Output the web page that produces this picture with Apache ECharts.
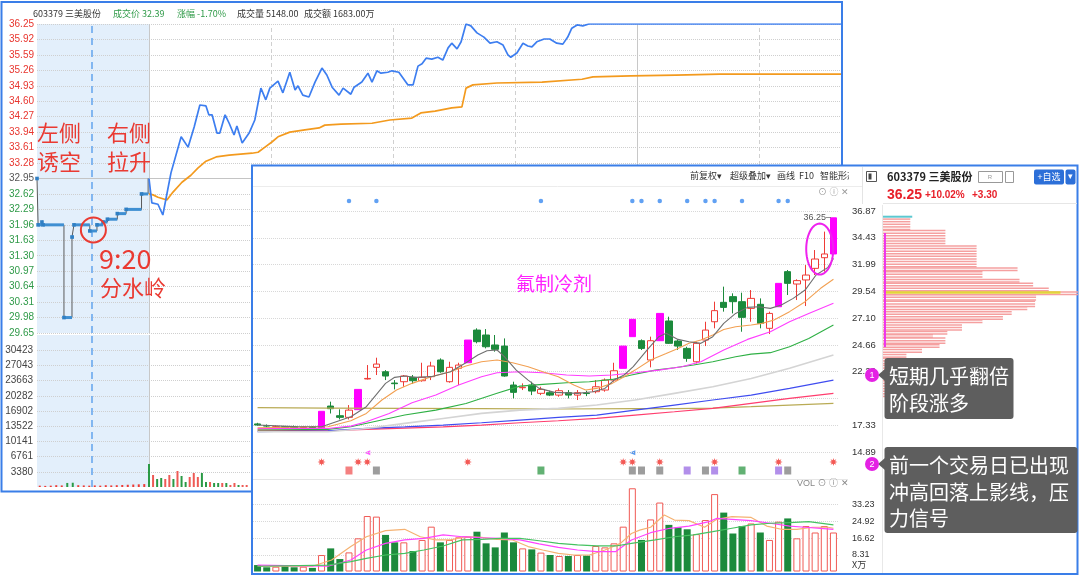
<!DOCTYPE html>
<html>
<head>
<meta charset="utf-8">
<script src="https://cdn.jsdelivr.net/npm/echarts@6.0.0/dist/echarts.min.js"></script>
<style>
html,body{margin:0;padding:0;background:#fff;}
#chart{width:1080px;height:575px;}
</style>
</head>
<body>
<div id="chart"></div>
<script>
// ================= DATA =================
const stockCode = '603379';
const stockName = '三美股份';
const quoteFields = ['成交价', '涨幅', '成交量', '成交额'];
const quoteValues = ['32.39', '-1.70%', '5148.00', '1683.00万'];
const prevClose = 32.95;
const priceTicks = ['36.25','35.92','35.59','35.26','34.93','34.60','34.27','33.94','33.61','33.28','32.95','32.62','32.29','31.96','31.63','31.30','30.97','30.64','30.31','29.98','29.65'];
const volTickLabels = ['3380','6761','10141','13522','16902','20282','23663','27043','30423'];
const volTickStep = 3380.4;

// call auction 9:15-9:25 (minutes after 9:15)
const auctionMin   = [0, 0.1, 0.45, 0.55, 2.45, 3.18, 3.36, 4.8, 5.45, 6.0, 6.4, 7.3, 8.1, 9.5, 10.1];
const auctionPrice = [32.95, 31.96, 32.02, 31.96, 29.98, 31.70, 31.96, 31.83, 31.96, 32.02, 32.08, 32.20, 32.29, 32.62, 32.95];
const auctionVolMin = [0.25,0.75,1.25,1.75,2.25,2.75,3.25,3.75,4.25,4.75,5.25,5.75,6.25,6.75,7.25,7.75,8.25,8.75,9.25,9.75];
const auctionVol    = [300,250,300,400,350,900,950,400,350,300,350,300,400,350,400,450,500,550,600,650];
const auctionVolDir = [1,1,1,1,1,-1,-1,1,1,1,1,1,1,1,1,1,1,1,1,1];

// continuous trading (minutes after 9:30)
const priceMin = [0,0.7,2.2,3.4,5.4,7.9,9.6,11.1,12.5,14.0,14.7,15.5,16.7,17.4,18.7,19.7,20.9,21.6,22.9,24.6,26.0,27.5,28.7,29.7,31.7,32.9,34.6,35.9,36.6,37.8,39.3,40.8,42.5,43.7,45.0,46.7,47.7,49.6,50.4,52.3,53.8,54.8,56.0,57.0,58.7,59.7,61.4,63.6,64.9,66.1,67.1,68.1,69.5,71.0,72.2,73.5,74.4,75.7,76.7,77.9,79.1,80.6,82.3,83.8,85.5,87.0,88.2,88.9,90.4,91.9,93.1,94.1,95.3,97.1,98.5,100.2,101.7,102.9,103.9,105.2,106.6,108.1,170.3];
const priceVal = [32.95,32.43,32.40,32.17,33.07,33.84,33.62,34.05,34.52,34.50,34.31,34.31,33.92,33.92,34.31,34.13,33.88,34.07,33.71,33.92,34.20,34.88,34.63,34.88,35.03,34.78,35.22,34.84,34.93,34.73,34.69,35.01,35.31,35.16,34.90,34.73,34.88,34.75,34.90,35.01,35.20,35.01,35.25,35.20,35.22,35.25,35.22,34.95,34.95,35.35,35.40,35.52,35.50,35.54,35.48,35.74,35.84,35.72,35.87,36.25,36.21,36.06,35.97,35.84,35.87,35.80,35.59,35.54,35.63,35.84,35.78,35.76,35.87,35.93,35.93,35.84,35.82,35.97,36.16,36.23,36.21,36.25,36.25];
const avgMin = [0,1.0,2.2,4.4,5.9,8.1,10.3,12.0,14.0,16.5,19.7,25.3,26.8,28.5,30.2,31.7,34.6,38.3,41.8,43.2,47.2,54.8,59.2,64.6,66.8,70.3,74.4,76.9,77.9,79.6,85.5,96.6,106.4,109.1,118.4,129.5,140.3,170.3];
const avgVal = [32.62,32.60,32.55,32.49,32.66,32.87,33.02,33.17,33.32,33.41,33.45,33.49,33.51,33.62,33.73,33.84,33.94,33.99,34.03,34.09,34.11,34.13,34.20,34.24,34.35,34.39,34.46,34.48,34.88,34.95,34.99,35.01,35.07,35.12,35.14,35.16,35.18,35.18];
const timeGridMin = [30, 60, 90, 120, 150];
const contVolMin = [0,1,2,3,4,5,6,7,8,9,10,11,12,13,14,15,16,17,18,19,20,21,22,23,24];
const contVol    = [5115,2670,1780,2000,1780,2670,1780,3560,2450,1110,2220,3110,2220,3110,1110,1110,890,890,890,890,445,890,445,445,445];
const contVolDir = [-1,1,-1,-1,1,1,-1,1,-1,-1,1,1,1,-1,-1,1,-1,-1,1,-1,1,1,-1,1,1];

// daily candles [open, close, low, high]
const candles = [
[17.45,17.35,17.30,17.55],[17.30,17.25,17.15,17.40],[17.10,17.20,17.05,17.30],[17.20,17.10,17.00,17.25],
[17.20,17.10,17.00,17.30],[17.10,17.15,17.00,17.20],[17.15,17.10,17.00,17.25],[17.05,18.60,17.05,18.60],
[19.08,18.84,18.40,19.48],[18.20,18.05,17.86,18.78],[18.05,18.71,17.86,19.17],[18.75,20.60,18.75,20.60],
[21.55,21.60,21.50,22.82],[22.61,22.91,21.91,23.49],[22.21,21.82,21.45,22.36],[21.18,21.12,20.60,21.45],
[21.30,21.82,20.84,21.91],[21.70,21.39,21.09,21.91],[21.39,21.70,21.30,23.03],[21.76,22.73,21.45,23.12],
[23.28,22.21,22.12,23.43],[21.30,22.61,21.21,23.12],[22.52,22.82,21.00,23.03],[23.03,25.10,23.03,25.10],
[26.01,24.95,24.80,26.17],[25.56,24.49,24.34,26.10],[24.65,24.25,24.04,25.56],[24.55,21.82,21.76,25.25],
[21.00,20.33,19.78,21.30],[20.75,20.80,20.54,21.15],[21.00,20.45,20.08,21.30],[20.24,20.60,20.08,20.84],
[20.30,20.08,19.99,20.48],[20.08,20.48,19.93,20.69],[20.30,20.08,19.78,20.54],[20.08,20.30,19.63,20.54],
[20.26,20.22,19.99,20.48],[20.39,20.84,20.24,21.45],[20.54,21.45,20.39,21.60],[21.45,22.30,21.30,23.03],
[22.52,24.55,22.52,24.55],[25.41,26.99,25.41,26.99],[25.04,24.34,24.19,25.16],[23.28,25.04,22.61,25.41],
[25.04,27.53,25.04,27.53],[26.84,24.80,24.74,27.23],[25.01,24.55,24.19,25.16],[24.34,23.43,23.12,24.49],
[23.12,24.80,22.97,24.95],[25.10,26.01,24.55,26.77],[26.77,27.78,26.17,28.60],[28.54,28.08,27.69,29.97],
[29.06,28.60,27.53,29.36],[28.60,27.17,25.86,29.42],[27.99,28.90,26.77,29.66],[28.36,26.62,26.17,28.90],
[26.17,27.53,25.65,27.69],[28.14,30.27,28.14,30.27],[31.34,30.27,29.21,31.49],[30.21,30.52,28.75,30.64],
[30.58,31.03,28.20,31.94],[31.64,32.49,31.03,33.31],[32.61,32.95,31.34,34.99],[32.95,36.25,32.95,36.25]
];
const limitUpIdx = [7, 11, 23, 40, 41, 44, 57, 63];
const candleVol = [3.2,2.1,2.4,2.7,2.1,2.4,1.8,8.2,11.5,6.2,9.5,16.5,27.6,27.3,18.2,14.5,14.5,10.2,15.7,22.3,14.5,15.7,17.0,17.3,19.8,14.0,12.0,19.4,14.5,11.5,11.0,9.4,8.2,7.7,7.7,8.2,7.9,12.7,12.0,14.0,22.3,41.4,15.7,25.9,34.3,23.2,22.0,21.0,18.6,25.6,38.5,29.3,18.9,22.6,23.9,19.4,15.7,24.8,26.4,16.5,22.6,19.4,22.6,19.4];

// moving averages [day index, value]
const ma5 = [[0,17.35],[4,17.2],[7,17.19],[10.2,18.11],[11.9,19.02],[13.1,20.24],[14,21.15],[15,21.70],[16.1,21.82],[17.3,21.70],[19,21.76],[21.1,22.21],[22.8,23.03],[24.1,23.73],[25.1,24.13],[26.2,24.19],[27,23.58],[28.3,22.36],[29.6,21.45],[30.8,20.69],[32.5,20.33],[35,20.24],[36.7,20.39],[38,20.69],[39,21.45],[40.1,21.91],[41.1,22.67],[42.6,24.19],[43.9,25.41],[44.7,25.71],[46,25.16],[47.2,24.95],[48.5,24.80],[49.8,25.41],[51,26.62],[52.3,27.53],[53.6,28.08],[54.8,28.14],[56.1,27.99],[57.3,28.29],[58.6,28.90],[59.9,29.66],[61.1,31.03],[62.4,31.73],[63,32.55]];
const ma10 = [[0,17.1],[7.7,17.19],[10.2,17.74],[11.9,18.41],[13.6,19.63],[15.2,20.54],[16.9,21.15],[19,21.76],[21.1,22.21],[22.8,22.73],[24.5,23.12],[26.2,23.28],[27.9,23.03],[29.6,22.67],[31.2,22.21],[32.9,21.76],[34.6,21.00],[35.9,20.54],[37.1,20.69],[38.8,21.15],[40.1,21.76],[41.3,22.36],[43,23.28],[44.7,23.88],[46,24.34],[47.2,24.80],[48.5,25.10],[49.8,25.56],[51,26.07],[52.3,26.32],[54,26.47],[55.2,26.62],[56.5,26.93],[58.2,27.69],[59.9,28.60],[61.6,29.82],[63,30.64]];
const ma20 = [[0,17.04],[7.7,17.04],[10.2,17.25],[11.9,17.65],[14.4,18.41],[16.9,19.38],[19.5,20.08],[22,21.00],[24.5,21.76],[26.2,22.12],[28.7,22.21],[31.2,22.12],[33.8,21.91],[36.3,21.82],[38.8,21.91],[41.3,22.12],[43.9,22.36],[46.4,22.67],[48.5,23.12],[51,24.19],[53.6,25.16],[56.1,25.86],[58.2,26.77],[60.3,27.53],[63,28.45]];
const ma30 = [[0,16.89],[7.7,16.95],[10.2,17.19],[12.7,17.65],[16.1,18.26],[19.5,18.71],[22.8,19.32],[26.2,20.24],[28.7,20.90],[31.2,21.06],[33.8,21.21],[36.3,21.30],[38.8,21.51],[40.9,21.91],[43.5,22.36],[45.6,22.58],[47.7,22.82],[49.8,23.12],[52.3,23.58],[54,23.82],[56.1,23.95],[58.2,24.49],[60.3,25.25],[63,26.47]];
const ma60 = [[0,16.74],[7.7,16.74],[11.9,17.04],[16.1,17.50],[20.3,17.95],[24.5,18.41],[28.7,18.71],[32.9,18.87],[37.1,19.17],[41.3,19.63],[45.6,20.24],[49.8,20.84],[54,21.60],[58.2,22.52],[63,23.73]];
const ma120 = [[0,16.74],[7.7,16.83],[11.9,17.04],[16.1,17.19],[20.3,17.35],[24.5,17.56],[28.7,17.80],[32.9,18.05],[37.1,18.26],[41.3,18.71],[45.6,19.17],[49.8,19.63],[54,20.08],[58.2,20.69],[63,21.45]];
const ma250 = [[0,16.89],[7.7,16.83],[11.9,16.95],[16.1,17.07],[20.3,17.19],[24.5,17.35],[28.7,17.56],[32.9,17.74],[37.1,17.95],[41.3,18.26],[45.6,18.56],[49.8,18.87],[54,19.32],[58.2,19.78],[63,20.24]];
const maLong = [[0,18.93],[7.7,18.90],[16.1,18.87],[24.5,18.84],[32.9,18.81],[41.3,18.84],[45.6,18.84],[49.8,18.90],[54,19.02],[58.2,19.17],[63,19.32]];
const volMa5 = [[0,2.6],[6,2.6],[8.1,5.7],[10.2,12.4],[11.9,17.3],[14,20.3],[16.1,21.0],[17.8,17.3],[19.5,15.7],[21.1,15.7],[22.8,17.3],[24.5,17.0],[26.2,16.0],[27.9,15.7],[29.6,12.4],[31.2,10.7],[32.9,9.0],[34.6,8.2],[36.3,8.2],[38,10.7],[39.7,14.0],[40.9,18.9],[41.8,20.6],[43,22.0],[44.5,28.1],[45.6,25.6],[47.2,25.3],[48.9,22.0],[50.2,25.9],[51.9,27.3],[54,26.9],[55.7,22.6],[57.3,21.0],[59,21.0],[60.7,22.0],[62.4,22.0],[63,21.5]];
const volMa10 = [[0,3.2],[7.7,2.6],[10.2,5.7],[11.9,10.7],[14,14.0],[16.1,15.7],[18.2,16.5],[20.3,18.2],[22.4,17.3],[24.5,16.8],[26.6,16.5],[28.7,15.7],[30.8,13.7],[32.9,12.0],[35,10.7],[37.1,9.9],[39.2,9.9],[40.9,15.7],[43,19.3],[45.1,21.5],[47.2,22.6],[49.4,24.8],[50.2,26.4],[51.9,25.9],[54,25.3],[56.1,24.0],[58.2,22.6],[59.9,22.0],[61.6,21.5],[63,21.0]];
const volMa20 = [[0,2.6],[7.7,3.2],[10.2,4.9],[11.9,6.5],[14,8.2],[16.1,9.0],[18.2,10.7],[20.3,12.7],[22.4,15.7],[24.5,16.0],[26.6,16.5],[28.7,16.5],[30.8,15.3],[32.9,14.0],[35,13.2],[37.1,12.7],[39.2,12.7],[40.9,14.0],[43.5,15.7],[45.6,17.3],[47.7,18.2],[49.8,19.8],[51.9,21.5],[54,23.2],[56.1,24.0],[58.2,24.3],[60.3,24.8],[63,23.2]];
const candleTicks = ['36.87','34.43','31.99','29.54','27.10','24.66','22.22','19.78','17.33','14.89'];
const candleMarkPrice = 19.42;
const candleVolTicks = ['8.31','16.62','24.92','33.23'];
const candleVolStep = 8.3075;
const candleVolUnit = 'X万';

// signal markers (day indices)
const starIdx = [10, 13, 31, 41, 42, 44, 47, 49, 50, 53, 57, 58];
const asteriskIdx = [7, 11, 12, 23, 40, 41, 44, 50, 57, 63];
const iconIdx = [10, 13, 31, 41, 42, 44, 47, 49, 50, 53, 57, 58];
const iconKind = ['r','k','g','k','k','k','p','k','p','g','p','k'];
const flagIdx = [12, 41];
const flagKind = ['m', 'b'];

// chip distribution blocks [price top, price bottom, share %]
const chipBlocks = [[36.20,35.20,14],[35.15,33.80,32],[33.75,31.80,48],[31.75,31.45,69],[31.40,30.75,51],[30.70,30.40,70],[30.35,29.95,77],[29.90,29.60,85],[29.55,29.35,100],[29.30,28.75,78.5],[28.70,28.25,78],[28.20,27.80,74],[27.75,27.35,66],[27.30,27.05,61.5],[27.00,26.60,51],[26.55,26.00,40.5],[25.95,25.70,33],[25.65,25.40,25.6],[25.35,24.80,32],[24.75,24.35,29],[24.30,23.90,20],[23.85,23.55,12],[23.50,22.90,9],[22.85,21.50,7],[21.45,19.90,4]];
const chipPeak = [29.45, 91];
const chipNow = [36.35, 15];
const chipCostBand = [34.86, 24.46];

const lastQuote = ['36.25', '+10.02%', '+3.30'];
const toolbarItems = ['前复权▾', '超级叠加▾', '画线', 'F10', '智能形态'];
const sectorNote = '氟制冷剂';
const leftNotes = ['左侧', '诱空', '右侧', '拉升', '9:20', '分水岭'];
const note1 = ['短期几乎翻倍', '阶段涨多'];
const note2 = ['前一个交易日已出现', '冲高回落上影线，压', '力信号'];

// ================= STYLE / BUILD =================
const FONT = '"Liberation Sans","Noto Sans CJK SC",sans-serif';
const CJK = '"Noto Sans CJK SC","Noto Sans",sans-serif';
const UP = '#ef3b36', DOWN = '#1c8a3c', LIMIT = '#ff00ff';
const chart = echarts.init(document.getElementById('chart'), null, {renderer: 'canvas', width: 1080, height: 575});

const zip = (a, b) => a.map((v, i) => [v, b[i]]);
const cats = candles.map((_, i) => 'D' + (i + 1));
const tickColor = t => (+t > prevClose + 1e-6 ? '#e8352e' : (+t < prevClose - 1e-6 ? '#2f9a48' : '#555'));
const dotted = {type: 'dotted', color: '#cfcfcf', width: 1};

function starPath(n, r1, r2) {
  let d = '';
  for (let i = 0; i < 2 * n; i++) {
    const r = i % 2 ? r2 : r1, a = Math.PI * i / n - Math.PI / 2;
    d += (i ? 'L' : 'M') + (50 + r * Math.cos(a)).toFixed(2) + ' ' + (50 + r * Math.sin(a)).toFixed(2) + ' ';
  }
  return 'path://' + d + 'Z';
}
const iconColor = {r: '#f26a6a', k: '#8c8c8c', g: '#46a35a', p: '#a47be6'};
const flagColor = {m: '#ff33ff', b: '#2f7fe8'};

const auctionSegs = auctionMin.slice(0, -1).map((m, i) => [m, auctionPrice[i], auctionMin[i + 1]]);
const chipData = chipBlocks.map(b => [b[0], b[1], b[2], 0])
  .concat([[chipPeak[0], chipPeak[0], chipPeak[1], 1], [chipNow[0], chipNow[0], chipNow[1], 2], [chipCostBand[0], chipCostBand[1], 1, 3]]);

const G = (left, top, width, height) => ({left, top, width, height, outerBoundsMode: 'none', containLabel: false});

const option = {
  animation: false,
  backgroundColor: '#ffffff',
  grid: [
    G(37, 24, 112, 309), G(149, 24, 693, 309), G(37, 335, 112, 152), G(149, 335, 693, 152),
    G(253, 196, 585, 10), G(253, 211, 585, 241), G(253, 445, 585, 34), G(253, 488, 585, 83.5),
    G(883, 211, 195, 241)
  ],
  xAxis: [
    {gridIndex: 0, type: 'value', min: 0, max: 10.18, show: false},
    {gridIndex: 1, type: 'value', min: 0, max: 170.3, show: false},
    {gridIndex: 2, type: 'value', min: 0, max: 10.18, show: false},
    {gridIndex: 3, type: 'value', min: 0, max: 170.3, show: false},
    {gridIndex: 4, type: 'category', data: cats, show: false},
    {gridIndex: 5, type: 'category', data: cats, show: false},
    {gridIndex: 5, type: 'value', min: -0.5, max: 63.5, show: false},
    {gridIndex: 6, type: 'category', data: cats, show: false},
    {gridIndex: 7, type: 'category', data: cats, show: false},
    {gridIndex: 7, type: 'value', min: -0.5, max: 63.5, show: false},
    {gridIndex: 8, type: 'value', min: 0, max: 100, show: false}
  ],
  yAxis: [
    {gridIndex: 0, type: 'value', min: 29.65, max: 36.25, show: false},
    {gridIndex: 1, type: 'value', min: 29.65, max: 36.25, show: false},
    {gridIndex: 2, type: 'value', min: 0, max: volTickStep * 10, show: false},
    {gridIndex: 3, type: 'value', min: 0, max: volTickStep * 10, show: false},
    {gridIndex: 4, type: 'value', min: 0, max: 2, show: false},
    {gridIndex: 5, type: 'value', min: 14.89, max: 36.87, show: false},
    {gridIndex: 6, type: 'value', min: 0, max: 4, show: false},
    {gridIndex: 7, type: 'value', min: 0, max: candleVolStep * 5, show: false},
    {gridIndex: 8, type: 'value', min: 14.89, max: 36.87, show: false}
  ],
  series: []
};
const S = option.series;

// ---- left intraday panel ----
S.push({type: 'scatter', xAxisIndex: 0, yAxisIndex: 0, z: 1, silent: true, symbolSize: 0, data: [[0, 30]],
  markArea: {silent: true, z: 1, itemStyle: {color: '#e3effb'}, data: [[{xAxis: 0, yAxis: 29.65}, {xAxis: 10.18, yAxis: 36.25}]]}});
S.push({type: 'scatter', xAxisIndex: 2, yAxisIndex: 2, z: 1, silent: true, symbolSize: 0, data: [[0, 0]],
  markArea: {silent: true, z: 1, itemStyle: {color: '#e3effb'}, data: [[{xAxis: 0, yAxis: 0}, {xAxis: 10.18, yAxis: volTickStep * 10}]]}});

S.push({type: 'line', xAxisIndex: 0, yAxisIndex: 0, z: 3, step: 'end', symbol: 'none', silent: true,
  data: zip(auctionMin, auctionPrice), lineStyle: {color: '#5a5a5a', width: 1},
  markLine: {silent: true, z: 2, symbol: ['none', 'none'], animation: false,
    data: priceTicks.map(t => ({yAxis: +t,
      lineStyle: +t === prevClose ? {type: 'solid', color: '#c4c4c4', width: 1} : dotted,
      label: {show: true, position: 'start', distance: 3, formatter: t, color: tickColor(t), fontSize: 10, fontFamily: FONT}}))
      .concat([{xAxis: 5, lineStyle: {type: [7, 5], color: '#6aa9ee', width: 1.6}, label: {show: false}}])}});
S.push({type: 'custom', xAxisIndex: 0, yAxisIndex: 0, z: 4, silent: true, data: auctionSegs, encode: {x: [0, 2], y: 1},
  renderItem: (p, api) => {
    const s = api.coord([api.value(0), api.value(1)]), e = api.coord([api.value(2), api.value(1)]);
    return {type: 'group', children: [
      {type: 'line', shape: {x1: s[0], y1: s[1], x2: e[0], y2: s[1]}, style: {stroke: '#3f8fd2', lineWidth: 3}},
      {type: 'rect', shape: {x: s[0] - 1.8, y: s[1] - 1.8, width: 3.6, height: 3.6}, style: {fill: '#2f7fc4'}}]};
  }});
S.push({type: 'line', xAxisIndex: 1, yAxisIndex: 1, z: 4, symbol: 'none', silent: true,
  data: zip(priceMin, priceVal), lineStyle: {color: '#3d7ef0', width: 1.7},
  markLine: {silent: true, z: 2, symbol: ['none', 'none'], animation: false,
    data: priceTicks.map(t => ({yAxis: +t, lineStyle: +t === prevClose ? {type: 'solid', color: '#c4c4c4', width: 1} : dotted, label: {show: false}}))
      .concat(timeGridMin.map(m => ({xAxis: m, lineStyle: m === 120 ? {type: 'solid', color: '#c8c8c8', width: 1} : {type: [4, 3], color: '#d0d0d0', width: 1}, label: {show: false}})))
      .concat([{xAxis: 0, lineStyle: {type: 'solid', color: '#c8c8c8', width: 1}, label: {show: false}}])}});
S.push({type: 'line', xAxisIndex: 1, yAxisIndex: 1, z: 3, symbol: 'none', silent: true,
  data: zip(avgMin, avgVal), lineStyle: {color: '#f39a1e', width: 1.7}});
S.push({type: 'bar', xAxisIndex: 2, yAxisIndex: 2, z: 3, silent: true, barWidth: 2,
  data: auctionVolMin.map((m, i) => ({value: [m, auctionVol[i]], itemStyle: {color: auctionVolDir[i] > 0 ? '#ee3a33' : '#2a9a45'}})),
  markLine: {silent: true, z: 2, symbol: ['none', 'none'], animation: false,
    data: volTickLabels.map((t, i) => ({yAxis: volTickStep * (i + 1), lineStyle: dotted,
      label: {show: true, position: 'start', distance: 4, formatter: t, color: '#444', fontSize: 10, fontFamily: FONT}}))
      .concat([{xAxis: 5, lineStyle: {type: [7, 5], color: '#6aa9ee', width: 1.6}, label: {show: false}}])}});
S.push({type: 'bar', xAxisIndex: 3, yAxisIndex: 3, z: 3, silent: true, barWidth: 2,
  data: contVolMin.map((m, i) => ({value: [m, contVol[i]], itemStyle: {color: contVolDir[i] > 0 ? '#ee5a55' : '#2a9a45'}})),
  markLine: {silent: true, z: 2, symbol: ['none', 'none'], animation: false,
    data: volTickLabels.map((t, i) => ({yAxis: volTickStep * (i + 1), lineStyle: dotted, label: {show: false}}))
      .concat(timeGridMin.map(m => ({xAxis: m, lineStyle: {type: [4, 3], color: '#d0d0d0', width: 1}, label: {show: false}})))
      .concat([{xAxis: 0, lineStyle: {type: 'solid', color: '#c8c8c8', width: 1}, label: {show: false}}])}});

// ---- daily candle panel ----
S.push({type: 'scatter', xAxisIndex: 4, yAxisIndex: 4, z: 60, silent: true, symbol: 'circle', symbolSize: 4.5,
  itemStyle: {color: '#3a8af0'}, data: starIdx.map(i => [i, 1])});
const lastC = candles[candles.length - 1];
S.push({type: 'candlestick', xAxisIndex: 5, yAxisIndex: 5, z: 62, silent: true, barWidth: 7,
  itemStyle: {color: '#ffffff', color0: DOWN, borderColor: UP, borderColor0: DOWN, borderWidth: 1},
  data: candles.map((c, i) => limitUpIdx.includes(i) ? {value: c, itemStyle: {color: LIMIT, borderColor: LIMIT}} : c),
  markLine: {silent: true, z: 61, symbol: ['none', 'none'], animation: false,
    data: candleTicks.map(t => ({yAxis: +t, lineStyle: {type: 'dotted', color: '#d8d8d8', width: 1},
      label: {show: t !== '19.78', position: 'end', distance: 14, formatter: t, color: '#333', fontSize: 9.5, fontFamily: FONT}}))
      .concat([{yAxis: candleMarkPrice, lineStyle: {opacity: 0},
        label: {show: true, position: 'end', distance: 11, formatter: candleMarkPrice.toFixed(2), color: '#333', fontSize: 9.5, fontFamily: FONT,
          backgroundColor: '#e1edfa', padding: [2, 9, 2, 3]}}])},
  markPoint: {silent: true, z: 64, symbol: 'rect', symbolSize: 1, itemStyle: {color: 'rgba(0,0,0,0)'},
    label: {show: true, position: 'left', distance: 2, color: '#555', fontSize: 9, fontFamily: FONT},
    data: [{coord: [candles.length - 1, lastC[3]], value: lastC[3], itemStyle: {color: 'rgba(0,0,0,0)'},
      label: {show: true, position: 'left', distance: 2, formatter: lastC[3].toFixed(2) + '–', color: '#555', fontSize: 9}}]}});
const maDefs = [[maLong, '#b9ab55', 1.2], [ma250, '#ff3d6e', 1.2], [ma120, '#3f4cf0', 1.2], [ma60, '#d4d4d4', 1.6],
  [ma30, '#2fb045', 1.1], [ma20, '#ff3dff', 1.1], [ma10, '#f2a052', 1.1], [ma5, '#6f6f6f', 1.1]];
maDefs.forEach(d => S.push({type: 'line', xAxisIndex: 6, yAxisIndex: 5, z: 63, symbol: 'none', silent: true,
  data: d[0], lineStyle: {color: d[1], width: d[2]}}));

S.push({type: 'scatter', xAxisIndex: 7, yAxisIndex: 6, z: 60, silent: true, symbol: starPath(8, 48, 22), symbolSize: 8,
  itemStyle: {color: '#f0302a'}, data: asteriskIdx.map(i => [i, 2])});
S.push({type: 'scatter', xAxisIndex: 7, yAxisIndex: 6, z: 60, silent: true, symbol: 'rect', symbolSize: [7, 8],
  data: iconIdx.map((i, k) => ({value: [i, 1], itemStyle: {color: iconColor[iconKind[k]], opacity: 0.85}}))});
S.push({type: 'scatter', xAxisIndex: 7, yAxisIndex: 6, z: 60, silent: true, symbol: 'triangle', symbolSize: [5, 6], symbolRotate: 90,
  data: flagIdx.map((i, k) => ({value: [i, 3.1], itemStyle: {color: flagColor[flagKind[k]]}}))});

S.push({type: 'bar', xAxisIndex: 8, yAxisIndex: 7, z: 60, silent: true, barWidth: 7,
  data: candleVol.map((v, i) => {
    const up = candles[i][1] >= candles[i][0];
    return {value: v, itemStyle: up ? {color: '#ffffff', borderColor: '#f05a55', borderWidth: 1} : {color: DOWN}};
  }),
  markLine: {silent: true, z: 59, symbol: ['none', 'none'], animation: false,
    data: candleVolTicks.map((t, i) => ({yAxis: candleVolStep * (i + 1), lineStyle: {type: 'dotted', color: '#d8d8d8', width: 1},
      label: {show: true, position: 'end', distance: 14, formatter: t, color: '#333', fontSize: 9, fontFamily: FONT}}))}});
[[volMa5, '#f5b272'], [volMa10, '#ff44ff'], [volMa20, '#45c261']].forEach(d => S.push({type: 'line', xAxisIndex: 9, yAxisIndex: 7,
  z: 61, symbol: 'none', silent: true, data: d[0], lineStyle: {color: d[1], width: 1.2}}));

// ---- chip distribution ----
S.push({type: 'custom', xAxisIndex: 10, yAxisIndex: 8, z: 60, silent: true, data: chipData, encode: {x: 2, y: [0, 1]},
  renderItem: (p, api) => {
    const top = api.value(0), bot = api.value(1), val = api.value(2), kind = api.value(3);
    const a = api.coord([0, top]), b = api.coord([val, bot]);
    if (kind === 0) {
      const ch = [];
      for (let y = a[1]; y <= b[1] + 0.5; y += 2.6) ch.push({type: 'rect', shape: {x: a[0], y: y, width: b[0] - a[0], height: 1.5}, style: {fill: '#f5a0a0'}});
      return {type: 'group', children: ch};
    }
    if (kind === 1) return {type: 'rect', shape: {x: a[0] + 2, y: a[1] - 1.2, width: b[0] - a[0] - 2, height: 2.6}, style: {fill: '#e3d43a'}};
    if (kind === 2) return {type: 'rect', shape: {x: a[0], y: a[1] - 1, width: b[0] - a[0], height: 2}, style: {fill: '#5cc8d0'}};
    return {type: 'line', shape: {x1: b[0], y1: a[1], x2: b[0], y2: b[1]}, style: {stroke: '#ee33ee', lineWidth: 2}};
  }});

chart.setOption(option);

// ================= GRAPHICS (frames, texts, annotations) =================
function T(x, y, text, size, color, o) {
  o = o || {};
  return {type: 'text', x: x, y: y, z: o.z || 70, silent: true,
    style: {text: text, fill: color, fontSize: size, fontFamily: o.family || FONT, fontWeight: o.bold ? 'bold' : 'normal',
      align: o.align || 'left', verticalAlign: o.va || 'middle'}};
}
const gfx = [];
// left panel header + frame
gfx.push(T(33, 14, stockCode + ' ' + stockName, 9, '#333', {z: 10, family: CJK}));
const qx = [113, 177, 237, 304];
quoteFields.forEach((f, i) => gfx.push(T(qx[i], 14, f + ' ' + quoteValues[i], 9, i < 2 ? '#2f9a48' : '#333', {z: 10, family: CJK})));
gfx.push({type: 'rect', z: 45, silent: true, shape: {x: 1.5, y: 2, width: 840.5, height: 489.5}, style: {fill: 'none', stroke: '#3a7ee8', lineWidth: 2}});
// left notes
const red = '#ea3a32';
gfx.push(T(37, 133, leftNotes[0], 22, red, {z: 10, family: CJK}));
gfx.push(T(37, 162, leftNotes[1], 22, red, {z: 10, family: CJK}));
gfx.push(T(107, 133, leftNotes[2], 22, red, {z: 10, family: CJK}));
gfx.push(T(107, 162, leftNotes[3], 22, red, {z: 10, family: CJK}));
gfx.push(T(99, 259, leftNotes[4], 27, red, {z: 10, family: CJK}));
gfx.push(T(100, 288, leftNotes[5], 22, red, {z: 10, family: CJK}));
const c920 = chart.convertToPixel({xAxisIndex: 0, yAxisIndex: 0}, [(auctionMin[7] + auctionMin[8]) / 2, auctionPrice[7]]);
gfx.push({type: 'circle', z: 11, silent: true, shape: {cx: c920[0], cy: c920[1] - 1, r: 12.5}, style: {fill: 'none', stroke: red, lineWidth: 2}});

// candle panel cover + frame
gfx.push({type: 'rect', z: 50, silent: true, shape: {x: 252, y: 165.5, width: 825.5, height: 408.5}, style: {fill: '#ffffff', stroke: '#3a7ee8', lineWidth: 2}});
gfx.push({type: 'line', z: 55, silent: true, shape: {x1: 253, y1: 186.5, x2: 862, y2: 186.5}, style: {stroke: '#ececec', lineWidth: 1}});
gfx.push({type: 'line', z: 55, silent: true, shape: {x1: 253, y1: 479.5, x2: 848, y2: 479.5}, style: {stroke: '#e6e6e6', lineWidth: 1}});
gfx.push({type: 'line', z: 55, silent: true, shape: {x1: 882.5, y1: 205, x2: 882.5, y2: 573}, style: {stroke: '#e8e8e8', lineWidth: 1}});
const tbx = [690, 730, 777, 799, 820];
toolbarItems.forEach((t, i) => gfx.push(T(tbx[i], 176, t, 9, '#333', {z: 55, family: CJK})));
gfx.push({type: 'rect', z: 56, silent: true, shape: {x: 849, y: 167, width: 13, height: 18}, style: {fill: '#fff'}});
gfx.push(T(818, 193, '⊙ ⓘ ✕', 9, '#999', {z: 55}));
gfx.push(T(797, 484, 'VOL ⊙ ⓘ ✕', 9, '#888', {z: 55}));
gfx.push(T(852, 565, candleVolUnit, 9, '#333', {z: 55, family: CJK}));
gfx.push(T(516, 284, sectorNote, 19, '#ff22ff', {z: 66, family: CJK}));
const ec = chart.convertToPixel({xAxisIndex: 6, yAxisIndex: 5}, [61.5, 33.4]);
const ellPts = [];
for (let k = 0; k < 60; k++) { const a = k / 60 * 2 * Math.PI; ellPts.push([ec[0] + 13.5 * Math.cos(a), ec[1] + 25.5 * Math.sin(a)]); }
gfx.push({type: 'polygon', z: 66, silent: true, shape: {points: ellPts}, style: {fill: 'none', stroke: '#ee22ee', lineWidth: 2}});

// right quote panel header
gfx.push({type: 'line', z: 70, silent: true, shape: {x1: 862.5, y1: 167, x2: 862.5, y2: 204}, style: {stroke: '#e4e4e4', lineWidth: 1}});
gfx.push({type: 'rect', z: 70, silent: true, shape: {x: 866.5, y: 171.5, width: 10, height: 10}, style: {fill: '#fff', stroke: '#555', lineWidth: 1}});
gfx.push({type: 'rect', z: 70, silent: true, shape: {x: 868.5, y: 173.5, width: 3, height: 6}, style: {fill: '#444'}});
gfx.push(T(887, 177, stockCode + ' ' + stockName, 11, '#222', {z: 70, bold: true, family: CJK}));
gfx.push({type: 'rect', z: 70, silent: true, shape: {x: 978.5, y: 171.5, width: 24, height: 11}, style: {fill: '#fff', stroke: '#999', lineWidth: 1}});
gfx.push(T(990, 177, 'R', 6, '#999', {z: 71, align: 'center'}));
gfx.push({type: 'rect', z: 70, silent: true, shape: {x: 1005.5, y: 171.5, width: 8, height: 11}, style: {fill: '#fff', stroke: '#999', lineWidth: 1}});
gfx.push({type: 'rect', z: 70, silent: true, shape: {x: 1034, y: 169.5, width: 30, height: 15, r: 2}, style: {fill: '#2c6fd8'}});
gfx.push(T(1049, 177, '+自选', 9, '#fff', {z: 71, align: 'center', family: CJK}));
gfx.push({type: 'rect', z: 70, silent: true, shape: {x: 1065.5, y: 169.5, width: 10, height: 15, r: 2}, style: {fill: '#2c6fd8'}});
gfx.push(T(1070.5, 177, '▾', 9, '#fff', {z: 71, align: 'center'}));
gfx.push(T(887, 195, lastQuote[0], 14, '#e8202a', {z: 70, bold: true}));
gfx.push(T(925, 195, lastQuote[1], 10, '#e8202a', {z: 70, bold: true}));
gfx.push(T(972, 195, lastQuote[2], 10, '#e8202a', {z: 70, bold: true}));
gfx.push({type: 'line', z: 70, silent: true, shape: {x1: 883, y1: 203.5, x2: 1077, y2: 203.5}, style: {stroke: '#e6e6e6', lineWidth: 1}});

// annotation boxes
const boxFill = '#5e5e5e', pink = '#e422e4';
gfx.push({type: 'polygon', z: 80, silent: true, shape: {points: [[878, 375], [885, 369], [885, 381]]}, style: {fill: boxFill}});
gfx.push({type: 'rect', z: 80, silent: true, shape: {x: 884.5, y: 358, width: 129, height: 61, r: 3}, style: {fill: boxFill}});
gfx.push(T(889, 376, note1[0], 20, '#fff', {z: 81, family: CJK}));
gfx.push(T(889, 403, note1[1], 20, '#fff', {z: 81, family: CJK}));
gfx.push({type: 'circle', z: 82, silent: true, shape: {cx: 872, cy: 375, r: 7}, style: {fill: pink}});
gfx.push(T(872, 375.5, '1', 9, '#fff', {z: 83, align: 'center'}));
gfx.push({type: 'polygon', z: 80, silent: true, shape: {points: [[878, 464], [885, 458], [885, 470]]}, style: {fill: boxFill}});
gfx.push({type: 'rect', z: 80, silent: true, shape: {x: 884.5, y: 447, width: 193, height: 86, r: 3}, style: {fill: boxFill}});
gfx.push(T(889, 465, note2[0], 20, '#fff', {z: 81, family: CJK}));
gfx.push(T(889, 492, note2[1], 20, '#fff', {z: 81, family: CJK}));
gfx.push(T(889, 518, note2[2], 20, '#fff', {z: 81, family: CJK}));
gfx.push({type: 'circle', z: 82, silent: true, shape: {cx: 872, cy: 464, r: 7}, style: {fill: pink}});
gfx.push(T(872, 464.5, '2', 9, '#fff', {z: 83, align: 'center'}));

chart.setOption({graphic: gfx});
</script>
</body>
</html>
